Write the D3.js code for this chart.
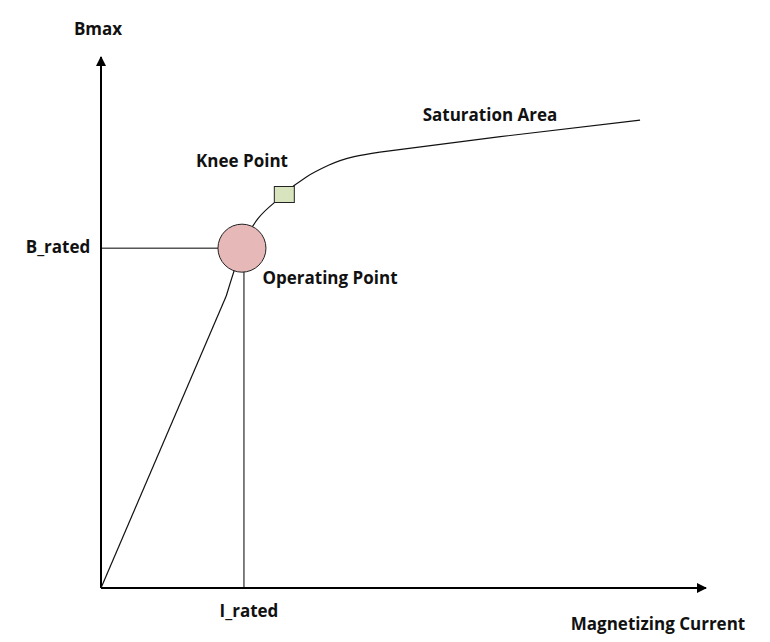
<!DOCTYPE html>
<html>
<head>
<meta charset="utf-8">
<script src="https://cdn.jsdelivr.net/npm/d3@7"></script>
<style>
  body { margin: 0; background: #fff; }
  text { font-family: "Open Sans", "Noto Sans", sans-serif; font-weight: bold; fill: #111; }
</style>
</head>
<body>
<svg id="chart" width="770" height="642"></svg>
<script>
// magnetization curve (arbitrary units)
const curveX = [0, 20.7, 23.3, 30.3, 37.6, 46.1, 66, 89.1]
const curveY = [0, 55.0, 64.0, 74.2, 79.6, 82.1, 85.0, 88.1]
const operatingPoint = [23.3, 64.0]
const kneePoint = [30.3, 74.2]
const labels = ['Bmax', 'Magnetizing Current', 'B_rated', 'I_rated', 'Knee Point', 'Operating Point', 'Saturation Area']

const svg = d3.select('#chart')

const x = d3.scaleLinear().domain([0, 100]).range([101, 706])
const y = d3.scaleLinear().domain([0, 100]).range([588, 57])

svg.append('defs').append('marker')
    .attr('id', 'arrow')
    .attr('viewBox', '0 0 10 10')
    .attr('refX', 9).attr('refY', 5)
    .attr('markerWidth', 5).attr('markerHeight', 5)
    .attr('orient', 'auto')
    .append('path').attr('d', 'M0,0 L10,5 L0,10 Z').attr('fill', '#000')

// axes with arrow heads
svg.append('line')
    .attr('x1', x(0)).attr('y1', y(0)).attr('x2', x(100)).attr('y2', y(0))
    .attr('stroke', '#000').attr('stroke-width', 2)
    .attr('marker-end', 'url(#arrow)')
svg.append('line')
    .attr('x1', x(0)).attr('y1', y(0)).attr('x2', x(0)).attr('y2', y(100))
    .attr('stroke', '#000').attr('stroke-width', 2)
    .attr('marker-end', 'url(#arrow)')

// rated guide lines
svg.append('line')
    .attr('x1', x(0)).attr('y1', y(operatingPoint[1]))
    .attr('x2', x(operatingPoint[0])).attr('y2', y(operatingPoint[1]))
    .attr('stroke', '#000').attr('stroke-width', 1)
svg.append('line')
    .attr('x1', x(operatingPoint[0]) + 2).attr('y1', y(operatingPoint[1]))
    .attr('x2', x(operatingPoint[0]) + 2).attr('y2', y(0))
    .attr('stroke', '#000').attr('stroke-width', 1)

const pts = curveX.map((d, i) => [d, curveY[i]])
const straight = d3.line().x(d => x(d[0])).y(d => y(d[1]))
const bend = d3.line().x(d => x(d[0])).y(d => y(d[1])).curve(d3.curveMonotoneX)

// linear rise, bend through the knee, then the flat saturation part
const pieces = [
    [pts.slice(0, 2), straight],
    [pts.slice(1, 6), bend],
    [pts.slice(5), straight]
]
pieces.forEach(([p, gen]) => {
    svg.append('path')
        .datum(p)
        .attr('d', gen)
        .attr('fill', 'none')
        .attr('stroke', '#111')
        .attr('stroke-width', 1.2)
})

svg.append('circle')
    .attr('cx', x(operatingPoint[0]))
    .attr('cy', y(operatingPoint[1]))
    .attr('r', 24)
    .attr('fill', '#e6b9b8')
    .attr('stroke', '#222')
    .attr('stroke-width', 1)

svg.append('rect')
    .attr('x', x(kneePoint[0]) - 10)
    .attr('y', y(kneePoint[1]) - 7.5)
    .attr('width', 20).attr('height', 16)
    .attr('fill', '#d7e4bd')
    .attr('stroke', '#222')
    .attr('stroke-width', 1)

const labelPos = [
    [98, 35], [658, 630], [58, 253], [249, 617], [242, 167], [330, 284], [490, 121]
]
svg.selectAll('text.lbl')
    .data(labels)
    .enter()
    .append('text')
    .attr('class', 'lbl')
    .attr('x', (d, i) => labelPos[i][0])
    .attr('y', (d, i) => labelPos[i][1])
    .attr('text-anchor', 'middle')
    .attr('font-size', 17)
    .text(d => d)
</script>
</body>
</html>
